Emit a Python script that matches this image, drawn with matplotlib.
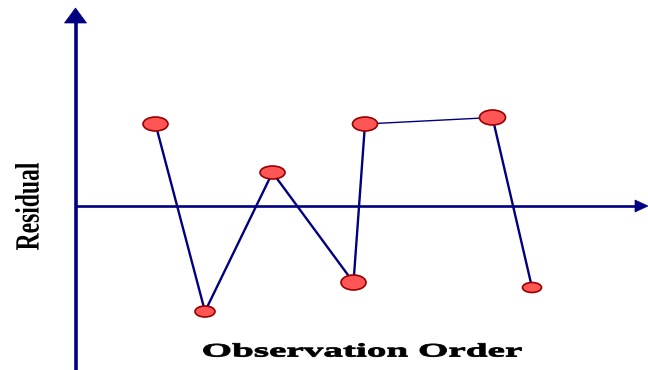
import matplotlib
matplotlib.use("Agg")
import matplotlib.pyplot as plt
from matplotlib.patches import Ellipse, Polygon, PathPatch
from matplotlib.textpath import TextPath
from matplotlib.font_manager import FontProperties
from matplotlib.transforms import Affine2D

# observation order (position along axis) and residual values
order = [1.60, 2.59, 3.94, 5.56, 5.79, 8.34, 9.13]
resid = [1.64, -2.11, 0.67, -1.53, 1.64, 1.77, -1.63]

x_label = "Observation Order"
y_label = "Residual"

# style
navy = "#000080"
fill = "#FF5555"
edge = "#990000"
mk_w = [0.50, 0.40, 0.50, 0.50, 0.50, 0.52, 0.38]
mk_h = [0.28, 0.22, 0.26, 0.30, 0.28, 0.30, 0.20]
seg_lw = [1.7, 1.7, 1.7, 1.7, 1.0, 1.7]

fig = plt.figure(figsize=(6.48, 3.70), dpi=100)
ax = fig.add_axes([0, 0, 1, 1])
ax.set_xlim(-1.51, 11.45)
ax.set_ylim(-3.28, 4.12)
ax.axis("off")

# axes with arrow heads
ax.plot([0, 0], [-3.3, 3.68], color=navy, lw=2.6, solid_capstyle="butt", zorder=1)
ax.add_patch(Polygon([[-0.22, 3.66], [0.22, 3.66], [0, 3.96]], closed=True,
                     fc=navy, ec=navy, lw=0.5, zorder=1))
ax.plot([0, 11.2], [0, 0], color=navy, lw=1.9, solid_capstyle="butt", zorder=1)
ax.add_patch(Polygon([[11.19, -0.12], [11.19, 0.12], [11.45, 0]], closed=True,
                     fc=navy, ec=navy, lw=0.5, zorder=1))

# residual line
for i in range(len(order) - 1):
    ax.plot(order[i:i + 2], resid[i:i + 2], color=navy, lw=seg_lw[i], zorder=2)

for x, y, w, h in zip(order, resid, mk_w, mk_h):
    ax.add_patch(Ellipse((x, y), w, h, fc=fill, ec=edge, lw=1.2, zorder=3))

# labels: condensed / extended bold serif drawn as paths
lab = fig.add_axes([0, 0, 1, 1])
lab.set_xlim(0, 648)
lab.set_ylim(0, 370)
lab.axis("off")
fp = FontProperties(family="Liberation Serif", weight="bold")


def fitted_text(s, box, rotate=False, stroke=0.0):
    tp = TextPath((0, 0), s, size=100, prop=fp)
    if rotate:
        tp = tp.transformed(Affine2D().rotate_deg(90))
    ext = tp.get_extents()
    x0, y0, x1, y1 = box
    tr = (Affine2D().translate(-ext.x0, -ext.y0)
          .scale((x1 - x0) / ext.width, (y1 - y0) / ext.height)
          .translate(x0, y0))
    lab.add_patch(PathPatch(tp.transformed(tr), fc="black",
                            ec="black" if stroke else "none", lw=stroke))


fitted_text(x_label, (203.5, 13.3, 521.5, 26.7), stroke=0.6)
fitted_text(y_label, (15, 120, 39, 207), rotate=True)

fig.savefig("out.png", dpi=100)
